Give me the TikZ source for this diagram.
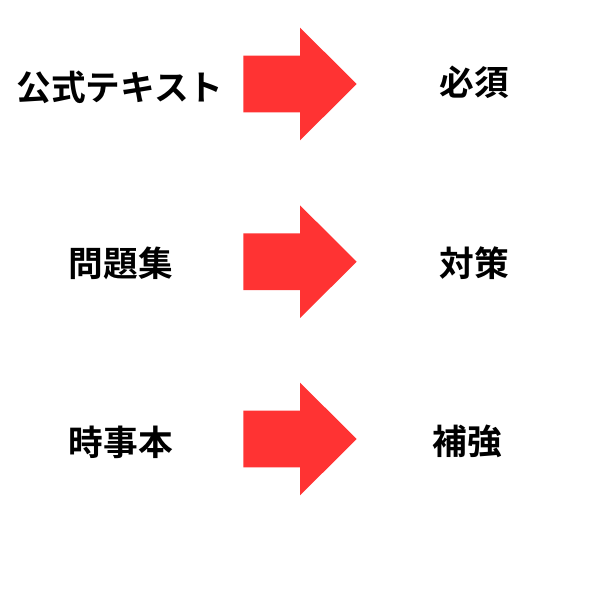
\documentclass[tikz,border=0pt]{standalone}
\usepackage{fontspec}
\usepackage{tikz}
\usetikzlibrary{calc}
\newfontfamily\cjk{Noto Sans CJK JP}[BoldFont={Noto Sans CJK JP Bold}]
\definecolor{arrowred}{HTML}{FF3333}

\begin{document}
\begin{tikzpicture}[x=1pt, y=-1pt]
        % Arrow formulae
        \pgfmathsetmacro{\tail}{243.3}
        \pgfmathsetmacro{\neck}{300}
        \pgfmathsetmacro{\tip}{356.7}
        \pgfmathsetmacro{\body}{28.3}
        \pgfmathsetmacro{\head}{56.35}

        \tikzset{
            word/.style={font=\cjk\bfseries\fontsize{34.7}{40}\selectfont, inner sep=0},
        }

        % Page frame, 600 by 600
        \useasboundingbox[fill=white] (0, 0) rectangle (600, 600);

        % Left column
        \node[word] (L1) at (120, 87) {公式テキスト};
        \node[word] (L2) at (121, 263) {問題集};
        \node[word] (L3) at (121, 442) {時事本};

        % Right column
        \node[word] (R1) at (474, 82) {必須};
        \node[word] (R2) at (474, 263) {対策};
        \node[word] (R3) at (467.5, 441) {補強};

        % Block arrows, one per row
        \foreach \i/\c in {1/84, 2/261.7, 3/439} {
            \coordinate (A\i) at (\tip, \c);
            \fill[arrowred] (\tail, \c-\body) -- (\neck, \c-\body)
                -- (\neck, \c-\head) -- (A\i) -- (\neck, \c+\head)
                -- (\neck, \c+\body) -- (\tail, \c+\body) -- cycle;
        }

\end{tikzpicture}
\end{document}
